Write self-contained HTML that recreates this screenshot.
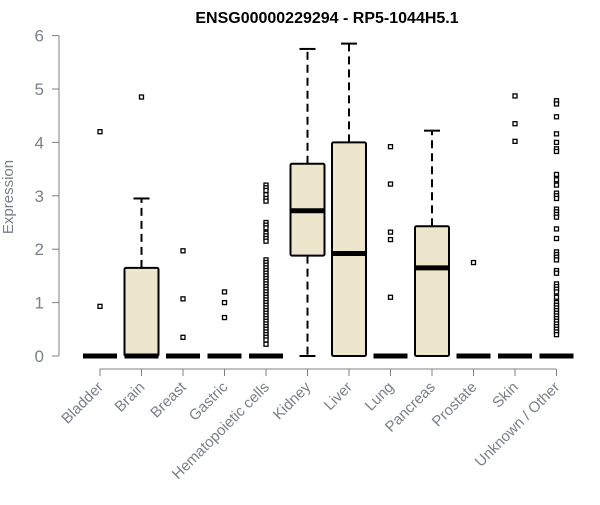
<!DOCTYPE html>
<html><head><meta charset="utf-8"><style>
body{margin:0;background:#fff;}
svg text{font-family:"Liberation Sans",Arial,sans-serif;}
</style></head><body>
<svg id="chart" width="600" height="500" xmlns="http://www.w3.org/2000/svg">
<text x="327" y="23" text-anchor="middle" font-size="16" font-weight="bold">ENSG00000229294 - RP5-1044H5.1</text>
<text transform="translate(13,197) rotate(-90)" text-anchor="middle" font-size="15" fill="#7a7f88">Expression</text>
<g id="yaxis"></g>
<g id="xaxis"></g>
<g id="boxes"></g>
</svg>
<script>
const categories=["Bladder","Brain","Breast","Gastric","Hematopoietic cells","Kidney","Liver","Lung","Pancreas","Prostate","Skin","Unknown / Other"];
const whiskerLow=[0,0,0,0,0,0,0,0,0,0,0,0];
const q1=[0,0,0,0,0,1.88,0,0,0,0,0,0];
const medians=[0,0,0,0,0,2.72,1.92,0,1.65,0,0,0];
const q3=[0,1.65,0,0,0,3.6,4.0,0,2.43,0,0,0];
const whiskerHigh=[0,2.95,0,0,0,5.75,5.85,0,4.22,0,0,0];
const outliers=[
[4.2,0.93],
[4.85],
[1.97,1.07,0.35],
[1.2,1.0,0.72],
[3.2,3.15,3.1,3.02,2.95,2.9,2.5,2.45,2.4,2.3,2.25,2.2,2.15,1.8,1.75,1.7,1.65,1.6,1.55,1.5,1.45,1.4,1.35,1.3,1.25,1.2,1.15,1.1,1.05,1.0,0.95,0.9,0.85,0.8,0.75,0.7,0.65,0.6,0.55,0.5,0.45,0.4,0.35,0.3,0.22],
[],
[],
[3.92,3.22,2.32,2.18,1.1],
[],
[1.75],
[4.87,4.35,4.02],
[4.78,4.72,4.48,4.16,4.0,3.88,3.83,3.4,3.3,3.2,3.05,3.0,2.95,2.75,2.7,2.65,2.6,2.38,2.2,1.95,1.9,1.85,1.8,1.6,1.55,1.35,1.3,1.25,1.2,1.1,1.0,0.95,0.9,0.85,0.8,0.75,0.7,0.65,0.6,0.55,0.5,0.45,0.4]
];
const yTicks=[0,1,2,3,4,5,6];
const NS="http://www.w3.org/2000/svg";
const y=v=>356-v*53.4;
const x=i=>100+i*41.5;
function mk(tag,attrs,parent){const e=document.createElementNS(NS,tag);for(const k in attrs)e.setAttribute(k,attrs[k]);parent.appendChild(e);return e;}
const ya=document.getElementById('yaxis'),xa=document.getElementById('xaxis'),bx=document.getElementById('boxes');
mk('line',{x1:59,x2:59,y1:y(6),y2:y(0),stroke:'#808080'},ya);
yTicks.forEach(t=>{
  const l=mk('line',{x1:52,x2:59,y1:y(t),y2:y(t),stroke:'#808080'},ya);
  
  
  const tx=mk('text',{x:44,y:y(t)+6,'text-anchor':'end','font-size':17,fill:'#7a7f88'},ya);
  tx.textContent=t;
  
  
});
mk('line',{x1:x(0),x2:x(categories.length-1),y1:369,y2:369,stroke:'#808080'},xa);
categories.forEach((c,i)=>{
  const cx=x(i);
  const tk=mk('line',{x1:cx,x2:cx,y1:369,y2:376,stroke:'#808080'},xa);
  
  
  const tx=mk('text',{transform:`translate(${cx+4},${388}) rotate(-45)`,'text-anchor':'end','font-size':15,fill:'#7a7f88'},xa);
  tx.textContent=c;
  
  
  const g=mk('g',{},bx);
  
  
  const w=17;
  if(whiskerHigh[i]>q3[i]) mk('line',{x1:cx,x2:cx,y1:y(q3[i]),y2:y(whiskerHigh[i]),stroke:'#000','stroke-width':2,'stroke-dasharray':'8,5'},g);
  if(q1[i]>whiskerLow[i]) mk('line',{x1:cx,x2:cx,y1:y(q1[i]),y2:y(whiskerLow[i]),stroke:'#000','stroke-width':2,'stroke-dasharray':'8,5'},g);
  if(whiskerHigh[i]>q3[i]) mk('line',{x1:cx-8,x2:cx+8,y1:y(whiskerHigh[i]),y2:y(whiskerHigh[i]),stroke:'#000','stroke-width':2},g);
  if(q1[i]>whiskerLow[i]) mk('line',{x1:cx-8,x2:cx+8,y1:y(whiskerLow[i]),y2:y(whiskerLow[i]),stroke:'#000','stroke-width':2},g);
  if(q3[i]>q1[i]) mk('rect',{x:cx-w,y:y(q3[i]),width:2*w,height:y(q1[i])-y(q3[i]),fill:'#ede6cd',stroke:'#000','stroke-width':2,rx:1.5},g);
  mk('line',{x1:cx-w,x2:cx+w,y1:y(medians[i]),y2:y(medians[i]),stroke:'#000','stroke-width':5},g);
  outliers[i].forEach(v=>{
    const p=mk('rect',{x:cx-2,y:y(v)-2,width:4,height:4,fill:'#fff',stroke:'#000','stroke-width':1.3},g);
    
    
  });
});
</script>
</body></html>
